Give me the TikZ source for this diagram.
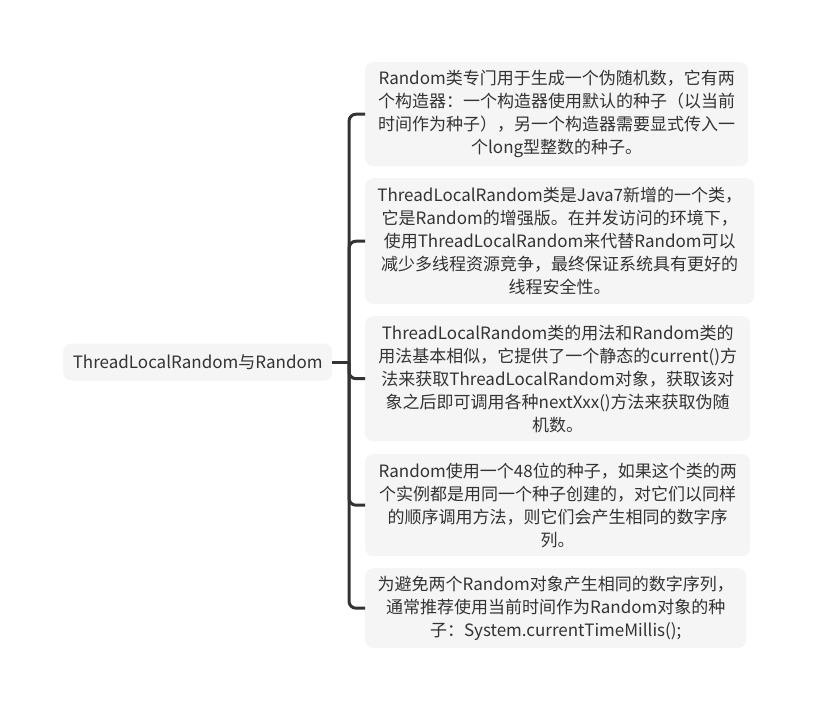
\documentclass[tikz,border=0pt]{standalone}
\usepackage{fontspec}
\newfontfamily\cjk{Noto Sans CJK SC}
\definecolor{boxfill}{HTML}{F5F5F5}
\definecolor{ink}{HTML}{333333}
\begin{document}
\begin{tikzpicture}[x=1pt,y=-1pt,
	leaf/.style={fill=boxfill,rounded corners=8pt,text=ink,align=center,anchor=north west,
		inner sep=0pt,font=\cjk\fontsize{17}{23}\selectfont},
	branch/.style={draw=ink,line width=3pt,rounded corners=7pt}]
		\useasboundingbox (0,0) rectangle (817,712);
		\node[leaf,anchor=west,minimum width=269pt,minimum height=37pt] (root) at (63,362) {ThreadLocalRandom与Random};
		\coordinate (sp) at (349,362);
		
		\node[leaf,minimum width=383pt,minimum height=104pt] (c1) at (365,62)
			{Random类专门用于生成一个伪随机数，它有两\\个构造器：一个构造器使用默认的种子（以当前\\时间作为种子），另一个构造器需要显式传入一\\个long型整数的种子。};
		\node[leaf,minimum width=389pt,minimum height=126pt] (c2) at (365,178)
			{ThreadLocalRandom类是Java7新增的一个类，\\它是Random的增强版。在并发访问的环境下，\\使用ThreadLocalRandom来代替Random可以\\减少多线程资源竞争，最终保证系统具有更好的\\线程安全性。};
		\node[leaf,minimum width=385pt,minimum height=125pt] (c3) at (365,316)
			{ThreadLocalRandom类的用法和Random类的\\用法基本相似，它提供了一个静态的current()方\\法来获取ThreadLocalRandom对象，获取该对\\象之后即可调用各种nextXxx()方法来获取伪随\\机数。};
		\node[leaf,minimum width=385pt,minimum height=102pt] (c4) at (365,454)
			{Random使用一个48位的种子，如果这个类的两\\个实例都是用同一个种子创建的，对它们以同样\\的顺序调用方法，则它们会产生相同的数字序\\列。};
		\node[leaf,minimum width=381pt,minimum height=80pt] (c5) at (365,568)
			{为避免两个Random对象产生相同的数字序列，\\通常推荐使用当前时间作为Random对象的种\\子：System.currentTimeMillis();};
		
		\draw[branch] (root.east) -- (sp);
		\foreach \k in {1,...,5}{
			\draw[branch] (sp) |- (c\k.west);}
	\end{tikzpicture}
\end{document}
